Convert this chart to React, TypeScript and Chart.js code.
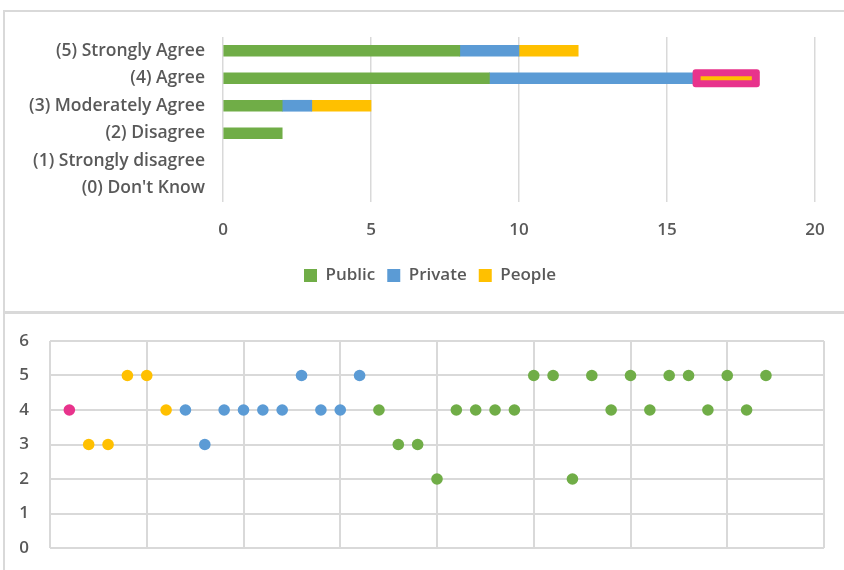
import React, { useEffect, useRef } from "react";
import { Chart, registerables } from "chart.js";

Chart.register(...registerables);

// ---------- Top chart data (stacked horizontal bars) ----------
const categories = [
  "(5) Strongly Agree",
  "(4) Agree",
  "(3) Moderately Agree",
  "(2) Disagree",
  "(1) Strongly disagree",
  "(0) Don't Know",
];
const publicCounts = [8, 9, 2, 2, 0, 0];
const privateCounts = [2, 7, 1, 0, 0, 0];
const peopleCounts = [2, 2, 2, 0, 0, 0];
const highlightedPeopleIndex = 1; // People bar of "(4) Agree"
const xAxisMax = 20;
const xAxisStep = 5;

// ---------- Bottom chart data (scatter of individual answers) ----------
const highlightX = [1];
const highlightY = [4];
const peopleX = [2, 3, 4, 5, 6];
const peopleY = [3, 3, 5, 5, 4];
const privateX = [7, 8, 9, 10, 11, 12, 13, 14, 15, 16];
const privateY = [4, 3, 4, 4, 4, 4, 5, 4, 4, 5];
const publicX = [17, 18, 19, 20, 21, 22, 23, 24, 25, 26, 27, 28, 29, 30, 31, 32, 33, 34, 35, 36, 37];
const publicY = [4, 3, 3, 2, 4, 4, 4, 4, 5, 5, 2, 5, 4, 5, 4, 5, 5, 4, 5, 4, 5];
const scatterXMax = 40;
const scatterXStep = 5;
const scatterYMax = 6;

const GREEN = "#70AD47";
const BLUE = "#5B9BD5";
const YELLOW = "#FFC000";
const PINK = "#E8338C";
const GRID = "#D9D9D9";
const TEXT = "#595959";
const FONT_FAMILY = "'Open Sans', 'Noto Sans', sans-serif";

const toPoints = (xs: number[], ys: number[]) => xs.map((x, i) => ({ x, y: ys[i] }));
const nonZero = (vals: number[]) => vals.map((v) => (v === 0 ? null : v));

const fixBox = (width?: number, height?: number) => (s: any) => {
  if (width !== undefined) s.width = width;
  if (height !== undefined) s.height = height;
  s.paddingTop = 0;
  s.paddingBottom = 0;
  s.paddingLeft = 0;
  s.paddingRight = 0;
};

const highlightPlugin = {
  id: "peopleHighlight",
  afterDatasetsDraw(chart: any) {
    const meta = chart.getDatasetMeta(2);
    const el: any = meta.data[highlightedPeopleIndex];
    if (!el) return;
    const { x, y, base } = el.getProps(["x", "y", "base"], true);
    const ctx = chart.ctx;
    ctx.save();
    ctx.fillStyle = PINK;
    const l = base - 4, r = x + 4, t = y - 9, b = y + 9;
    ctx.beginPath();
    (ctx as any).roundRect(l, t, r - l, b - t, 3);
    ctx.fill();
    ctx.fillStyle = YELLOW;
    ctx.fillRect(base + 4, y - 2, x - base - 8, 4);
    ctx.restore();
  },
};

export default function App() {
  const barRef = useRef<HTMLCanvasElement>(null);
  const scatterRef = useRef<HTMLCanvasElement>(null);

  useEffect(() => {
    const font = { family: FONT_FAMILY, size: 17, weight: "600" as any };
    const catFont = { family: FONT_FAMILY, size: 17.5, weight: "600" as any };
    const bar = new Chart(barRef.current!, {
      type: "bar",
      data: {
        labels: categories,
        datasets: [
          { label: "Public", data: nonZero(publicCounts), backgroundColor: GREEN, barThickness: 11 },
          { label: "Private", data: nonZero(privateCounts), backgroundColor: BLUE, barThickness: 11 },
          { label: "People", data: nonZero(peopleCounts), backgroundColor: YELLOW, barThickness: 11 },
        ],
      },
      options: {
        indexAxis: "y",
        animation: false,
        responsive: false,
        maintainAspectRatio: false,
        layout: { padding: { top: 25, right: 0, bottom: 17, left: 0 } },
        scales: {
          x: {
            stacked: true,
            min: 0,
            max: xAxisMax,
            ticks: { stepSize: xAxisStep, padding: 18, font, color: TEXT },
            grid: { color: GRID, lineWidth: 1.5, drawTicks: false },
            border: { display: false },
            afterFit: fixBox(undefined, 53),
          },
          y: {
            stacked: true,
            grid: { display: false, drawTicks: false },
            border: { display: false },
            ticks: { padding: 18, font: catFont, color: TEXT, autoSkip: false },
            afterFit: fixBox(218),
          },
          yRight: {
            type: "category",
            position: "right",
            grid: { display: false, drawTicks: false },
            border: { display: false },
            ticks: { display: false },
            afterFit: fixBox(40),
          },
        },
        plugins: {
          legend: {
            position: "bottom",
            labels: { boxWidth: 13, boxHeight: 13, padding: 12, font, color: TEXT },
          },
          tooltip: { enabled: false },
        },
      },
      plugins: [highlightPlugin],
    });

    const scatter = new Chart(scatterRef.current!, {
      type: "scatter",
      data: {
        datasets: [
          { label: "Highlight", data: toPoints(highlightX, highlightY), backgroundColor: PINK, pointRadius: 5.8, borderWidth: 0 },
          { label: "People", data: toPoints(peopleX, peopleY), backgroundColor: YELLOW, pointRadius: 5.8, borderWidth: 0 },
          { label: "Private", data: toPoints(privateX, privateY), backgroundColor: BLUE, pointRadius: 5.8, borderWidth: 0 },
          { label: "Public", data: toPoints(publicX, publicY), backgroundColor: GREEN, pointRadius: 5.8, borderWidth: 0 },
        ],
      },
      options: {
        animation: false,
        responsive: false,
        maintainAspectRatio: false,
        layout: { padding: { top: 27, right: 20, bottom: 22, left: 0 } },
        scales: {
          x: {
            type: "linear",
            min: 0,
            max: scatterXMax,
            ticks: { display: false, stepSize: scatterXStep },
            grid: { color: GRID, lineWidth: 2, drawTicks: false },
            border: { display: false },
            afterFit: fixBox(undefined, 0),
          },
          y: {
            min: 0,
            max: scatterYMax,
            ticks: { stepSize: 1, padding: 21, font, color: TEXT },
            grid: { color: GRID, lineWidth: 2, drawTicks: false },
            border: { display: false },
            afterFit: fixBox(45),
          },
        },
        plugins: { legend: { display: false }, tooltip: { enabled: false } },
      },
    });

    return () => {
      bar.destroy();
      scatter.destroy();
    };
  }, []);

  return (
    <div style={{ position: "absolute", left: 0, top: 0, width: 844, height: 570, overflow: "hidden", background: "#fff" }}>
      <div
        style={{
          position: "absolute",
          left: 3,
          top: 10,
          width: 900,
          height: 303,
          boxSizing: "border-box",
          border: `2px solid ${GRID}`,
        }}
      >
        <canvas ref={barRef} width={850} height={299} style={{ display: "block", width: 850, height: 299 }} />
      </div>
      <div
        style={{
          position: "absolute",
          left: 3,
          top: 312,
          width: 900,
          height: 300,
          boxSizing: "border-box",
          border: `2px solid ${GRID}`,
        }}
      >
        <canvas ref={scatterRef} width={839} height={256} style={{ display: "block", width: 839, height: 256 }} />
      </div>
    </div>
  );
}
